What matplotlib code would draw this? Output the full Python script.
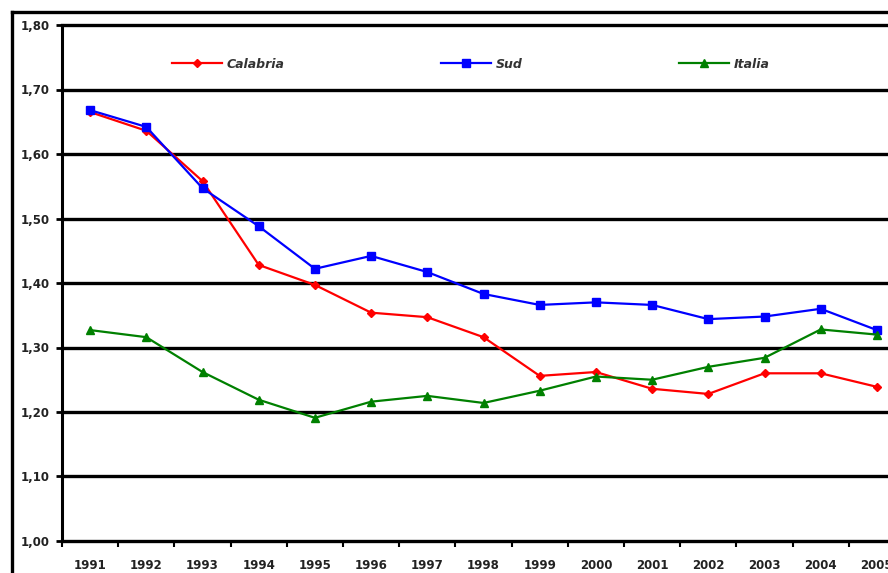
import numpy as np
import matplotlib
matplotlib.use("Agg")
import matplotlib.pyplot as plt
from matplotlib.lines import Line2D

years = ["1991", "1992", "1993", "1994", "1995", "1996", "1997", "1998",
         "1999", "2000", "2001", "2002", "2003", "2004", "2005"]
calabria = [1.665, 1.636, 1.558, 1.428, 1.397, 1.354, 1.347, 1.316,
            1.256, 1.262, 1.236, 1.228, 1.260, 1.260, 1.239]
sud = [1.668, 1.642, 1.547, 1.488, 1.422, 1.442, 1.417, 1.383,
       1.366, 1.370, 1.366, 1.344, 1.348, 1.360, 1.327]
italia = [1.327, 1.316, 1.262, 1.219, 1.191, 1.216, 1.225, 1.214,
          1.233, 1.255, 1.250, 1.270, 1.284, 1.328, 1.320]
yticks = [1.00, 1.10, 1.20, 1.30, 1.40, 1.50, 1.60, 1.70, 1.80]

W, H = 888, 573
fig = plt.figure(figsize=(W / 100, H / 100), dpi=100)
fig.patch.set_facecolor("white")

# axes run past the right edge like in the original screenshot
ax = fig.add_axes([62 / W, 1 - 541 / H, (905 - 62) / W, (541 - 25) / H])

x = np.arange(len(years))
ax.plot(x, calabria, color="#ff0000", marker="D", markersize=4.5, linewidth=1.6, label="Calabria")
ax.plot(x, sud, color="#0000ff", marker="s", markersize=6, linewidth=1.6, label="Sud")
ax.plot(x, italia, color="#008000", marker="^", markersize=6, linewidth=1.6, label="Italia")

ax.set_xlim(-0.5, len(years) - 0.5)
ax.set_ylim(1.0, 1.8)
ax.set_yticks(yticks)
ax.set_yticklabels([("%.2f" % v).replace(".", ",") for v in yticks],
                   fontsize=8.5, fontweight="bold", color="#222222")
for v in yticks:
    ax.axhline(v, color="black", linewidth=2.4, zorder=0.5, clip_on=False)

ax.set_xticks(x)
ax.set_xticklabels(years, fontsize=8.5, fontweight="bold", color="#222222")
ax.set_xticks(np.arange(-0.5, len(years), 1), minor=True)
ax.tick_params(axis="x", which="major", length=0, pad=13)
ax.tick_params(axis="x", which="minor", length=4, width=1.5, direction="out")
ax.tick_params(axis="y", length=4, width=2, direction="out", pad=5)

for s in ["top", "right", "bottom"]:
    ax.spines[s].set_visible(False)
ax.spines["left"].set_linewidth(2.2)

leg = ax.legend(loc="center", bbox_to_anchor=(0.485, 0.924), ncol=3, frameon=False,
                columnspacing=12.5, handlelength=4, handletextpad=0.4,
                prop={"style": "italic", "weight": "bold", "size": 9})
for t in leg.get_texts():
    t.set_color("#333333")

# outer frame of the original picture
fig.add_artist(Line2D([12 / W, 12 / W], [0, 1 - 12 / H], color="black", linewidth=2.4))
fig.add_artist(Line2D([12 / W, 1], [1 - 12 / H, 1 - 12 / H], color="black", linewidth=2.4))

fig.savefig("out.png", dpi=100, facecolor="white")
